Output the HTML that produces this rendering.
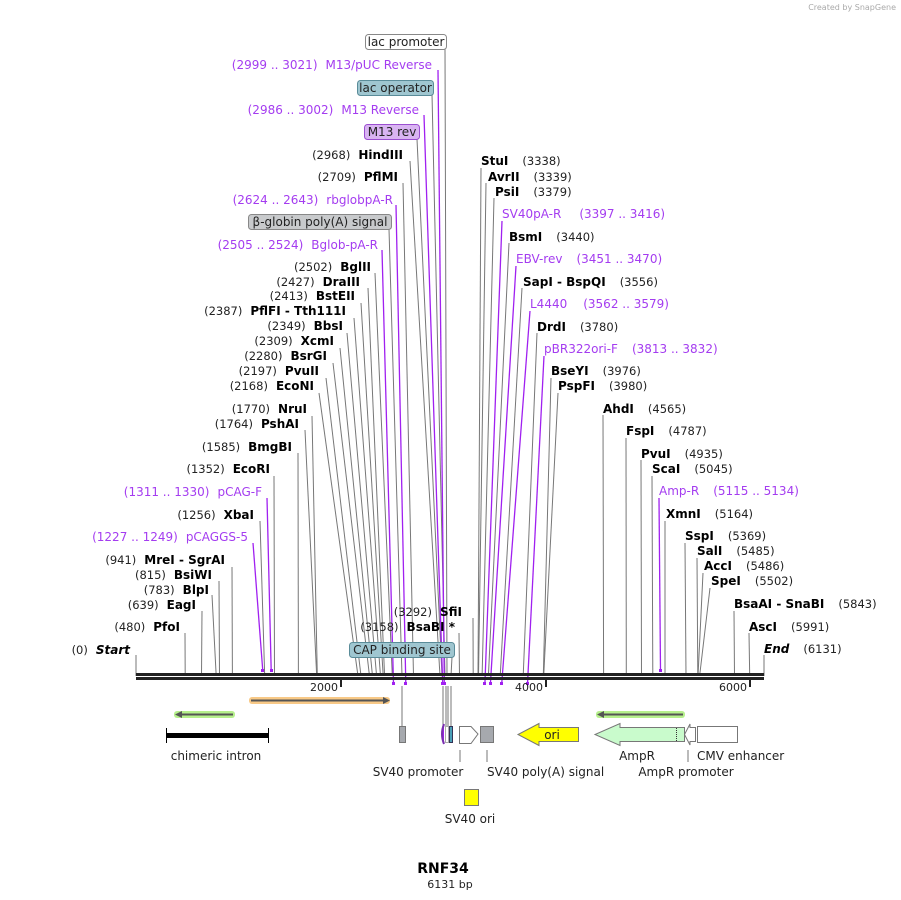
<!DOCTYPE html>
<html><head><meta charset="utf-8"><style>
body{margin:0;background:#fff}
svg{display:block;font-family:"DejaVu Sans","Liberation Sans",sans-serif}
.n{font-weight:bold;font-size:12px;fill:#000}
.p{font-size:11.5px;fill:#222;font-weight:normal;font-style:normal}
.pu{font-size:12px;fill:#a43cf0;font-weight:normal}
.l{stroke:#777;stroke-width:1;fill:none}
.lp{stroke:#a020f0;stroke-width:1.3;fill:none}
.f{font-size:12px;fill:#222}
</style></head><body>
<svg width="901" height="900" viewBox="0 0 901 900">
<text x="896" y="10" text-anchor="end" font-size="8" fill="#aaa">Created by SnapGene</text>

<g class="l">
<line x1="445" y1="49" x2="447" y2="676"/>
<line x1="432" y1="94" x2="445" y2="676"/>
<line x1="417" y1="139" x2="442" y2="676"/>
<line x1="410" y1="161" x2="440" y2="676"/>
<line x1="403" y1="183" x2="413.5" y2="676"/>
<line x1="389" y1="229" x2="402" y2="676"/>
<line x1="375" y1="273" x2="392.3" y2="676"/>
<line x1="368" y1="288" x2="384.6" y2="676"/>
<line x1="361" y1="303" x2="383.2" y2="676"/>
<line x1="354" y1="318" x2="380.5" y2="676"/>
<line x1="347" y1="333" x2="376.6" y2="676"/>
<line x1="340" y1="348" x2="372.5" y2="676"/>
<line x1="333" y1="363" x2="369.5" y2="676"/>
<line x1="326" y1="378" x2="361" y2="676"/>
<line x1="319" y1="393" x2="358" y2="676"/>
<line x1="312" y1="416" x2="317.3" y2="676"/>
<line x1="305" y1="430" x2="316.7" y2="676"/>
<line x1="298" y1="453" x2="298.4" y2="676"/>
<line x1="274" y1="476" x2="274.5" y2="676"/>
<line x1="260" y1="521" x2="264.7" y2="676"/>
<line x1="232" y1="567" x2="232.4" y2="676"/>
<line x1="219" y1="581" x2="219.5" y2="676"/>
<line x1="212" y1="595" x2="216.2" y2="676"/>
<line x1="202" y1="611" x2="201.5" y2="676"/>
<line x1="185" y1="633" x2="185.2" y2="676"/>
<line x1="136" y1="655" x2="136" y2="676"/>
<line x1="473" y1="618" x2="473.2" y2="676"/>
<line x1="459" y1="633" x2="459.5" y2="676"/>
<line x1="452" y1="657" x2="451" y2="676"/>
<line x1="481" y1="168" x2="478" y2="676"/>
<line x1="486" y1="183" x2="478.5" y2="676"/>
<line x1="494" y1="198" x2="482.1" y2="676"/>
<line x1="509" y1="243" x2="488.4" y2="676"/>
<line x1="522" y1="288" x2="500.2" y2="676"/>
<line x1="537" y1="333" x2="523.2" y2="676"/>
<line x1="551" y1="378" x2="543.3" y2="676"/>
<line x1="558" y1="393" x2="543.7" y2="676"/>
<line x1="603" y1="415" x2="603.6" y2="676"/>
<line x1="626" y1="438" x2="626.3" y2="676"/>
<line x1="641" y1="460" x2="641.5" y2="676"/>
<line x1="652" y1="476" x2="652.8" y2="676"/>
<line x1="665" y1="521" x2="665" y2="676"/>
<line x1="685" y1="543" x2="686" y2="676"/>
<line x1="697" y1="558" x2="697.8" y2="676"/>
<line x1="703" y1="573" x2="698" y2="676"/>
<line x1="710" y1="588" x2="699.6" y2="676"/>
<line x1="734" y1="611" x2="734.5" y2="676"/>
<line x1="749" y1="633" x2="749.7" y2="676"/>
<line x1="764" y1="655" x2="764" y2="676"/>
</g>
<g class="lp">
<line x1="438" y1="70" x2="444.3" y2="684"/>
<line x1="424" y1="115" x2="442.7" y2="684"/>
<line x1="396" y1="205" x2="405.8" y2="684"/>
<line x1="382" y1="250" x2="393.5" y2="684"/>
<line x1="267" y1="498" x2="271.2" y2="671"/>
<line x1="253" y1="543" x2="262.8" y2="671"/>
<line x1="502" y1="221" x2="484.9" y2="684"/>
<line x1="516" y1="266" x2="490.4" y2="684"/>
<line x1="530" y1="311" x2="501.7" y2="684"/>
<line x1="544" y1="356" x2="527.5" y2="684"/>
<line x1="659" y1="498" x2="660.5" y2="671"/>
</g>
<g fill="#a020f0">
<rect x="443" y="682" width="3" height="3"/><rect x="441" y="682" width="3" height="3"/>
<rect x="404" y="682" width="3" height="3"/><rect x="392" y="682" width="3" height="3"/>
<rect x="270" y="669" width="3" height="3"/><rect x="261" y="669" width="3" height="3"/>
<rect x="483" y="682" width="3" height="3"/><rect x="489" y="682" width="3" height="3"/>
<rect x="500" y="682" width="3" height="3"/><rect x="526" y="682" width="3" height="3"/>
<rect x="659" y="669" width="3" height="3"/>
</g>

<rect x="136" y="673" width="628" height="3" fill="#222"/>
<rect x="136" y="677" width="628" height="3" fill="#222"/>
<g fill="#222"><rect x="340" y="680" width="2" height="7"/><rect x="545" y="680" width="2" height="7"/><rect x="749" y="680" width="2" height="7"/></g>
<g font-size="11" fill="#222" text-anchor="end"><text x="338" y="691">2000</text><text x="543" y="691">4000</text><text x="747" y="691">6000</text></g>

<rect x="365.5" y="34.5" width="81" height="15" rx="3" fill="#fff" stroke="#888"/>
<text x="406" y="46" text-anchor="middle" class="f">lac promoter</text>
<rect x="357.5" y="80.5" width="76" height="15" rx="3" fill="#9fc6d0" stroke="#5a8c99"/>
<text x="395.5" y="92" text-anchor="middle" class="f">lac operator</text>
<rect x="364.5" y="124.5" width="55" height="15" rx="3" fill="#d9b4f2" stroke="#9b4fd0"/>
<text x="392" y="136" text-anchor="middle" class="f">M13 rev</text>
<rect x="248.5" y="214.5" width="143" height="15" rx="3" fill="#c8cacc" stroke="#888"/>
<text x="320" y="226" text-anchor="middle" class="f">β-globin poly(A) signal</text>
<rect x="349.5" y="642.5" width="105" height="15" rx="3" fill="#9fc6d0" stroke="#5a8c99"/>
<text x="402" y="654" text-anchor="middle" class="f">CAP binding site</text>

<g text-anchor="end">
<text x="432" y="69" class="pu">(2999 .. 3021)<tspan dx="8">M13/pUC Reverse</tspan></text>
<text x="419" y="114" class="pu">(2986 .. 3002)<tspan dx="8">M13 Reverse</tspan></text>
<text x="393" y="204" class="pu">(2624 .. 2643)<tspan dx="8">rbglobpA-R</tspan></text>
<text x="378" y="249" class="pu">(2505 .. 2524)<tspan dx="8">Bglob-pA-R</tspan></text>
<text x="262" y="496" class="pu">(1311 .. 1330)<tspan dx="8">pCAG-F</tspan></text>
<text x="248" y="541" class="pu">(1227 .. 1249)<tspan dx="8">pCAGGS-5</tspan></text>
<text x="403" y="159" class="p">(2968)<tspan dx="8" class="n">HindIII</tspan></text>
<text x="398" y="181" class="p">(2709)<tspan dx="8" class="n">PflMI</tspan></text>
<text x="371" y="271" class="p">(2502)<tspan dx="8" class="n">BglII</tspan></text>
<text x="360" y="286" class="p">(2427)<tspan dx="8" class="n">DraIII</tspan></text>
<text x="355" y="300" class="p">(2413)<tspan dx="8" class="n">BstEII</tspan></text>
<text x="346" y="315" class="p">(2387)<tspan dx="8" class="n">PflFI  - Tth111I</tspan></text>
<text x="343" y="330" class="p">(2349)<tspan dx="8" class="n">BbsI</tspan></text>
<text x="334" y="345" class="p">(2309)<tspan dx="8" class="n">XcmI</tspan></text>
<text x="327" y="360" class="p">(2280)<tspan dx="8" class="n">BsrGI</tspan></text>
<text x="319" y="375" class="p">(2197)<tspan dx="8" class="n">PvuII</tspan></text>
<text x="314" y="390" class="p">(2168)<tspan dx="8" class="n">EcoNI</tspan></text>
<text x="307" y="413" class="p">(1770)<tspan dx="8" class="n">NruI</tspan></text>
<text x="299" y="428" class="p">(1764)<tspan dx="8" class="n">PshAI</tspan></text>
<text x="292" y="451" class="p">(1585)<tspan dx="8" class="n">BmgBI</tspan></text>
<text x="270" y="473" class="p">(1352)<tspan dx="8" class="n">EcoRI</tspan></text>
<text x="254" y="519" class="p">(1256)<tspan dx="8" class="n">XbaI</tspan></text>
<text x="225" y="564" class="p">(941)<tspan dx="8" class="n">MreI  - SgrAI</tspan></text>
<text x="212" y="579" class="p">(815)<tspan dx="8" class="n">BsiWI</tspan></text>
<text x="209" y="594" class="p">(783)<tspan dx="8" class="n">BlpI</tspan></text>
<text x="196" y="609" class="p">(639)<tspan dx="8" class="n">EagI</tspan></text>
<text x="180" y="631" class="p">(480)<tspan dx="8" class="n">PfoI</tspan></text>
<text x="130" y="654" class="p">(0)<tspan dx="8" class="n" font-style="italic">Start</tspan></text>
<text x="462" y="616" class="p">(3292)<tspan dx="8" class="n">SfiI</tspan></text>
<text x="455" y="631" class="p">(3158)<tspan dx="8" class="n">BsaBI *</tspan></text>
</g>

<g>
<text x="481" y="165" class="n">StuI<tspan dx="14" class="p">(3338)</tspan></text>
<text x="488" y="181" class="n">AvrII<tspan dx="14" class="p">(3339)</tspan></text>
<text x="495" y="196" class="n">PsiI<tspan dx="14" class="p">(3379)</tspan></text>
<text x="502" y="218" class="pu">SV40pA-R<tspan dx="18">(3397 .. 3416)</tspan></text>
<text x="509" y="241" class="n">BsmI<tspan dx="14" class="p">(3440)</tspan></text>
<text x="516" y="263" class="pu">EBV-rev<tspan dx="14">(3451 .. 3470)</tspan></text>
<text x="523" y="286" class="n">SapI  - BspQI<tspan dx="14" class="p">(3556)</tspan></text>
<text x="530" y="308" class="pu">L4440<tspan dx="16">(3562 .. 3579)</tspan></text>
<text x="537" y="331" class="n">DrdI<tspan dx="14" class="p">(3780)</tspan></text>
<text x="544" y="353" class="pu">pBR322ori-F<tspan dx="14">(3813 .. 3832)</tspan></text>
<text x="551" y="375" class="n">BseYI<tspan dx="14" class="p">(3976)</tspan></text>
<text x="558" y="390" class="n">PspFI<tspan dx="14" class="p">(3980)</tspan></text>
<text x="603" y="413" class="n">AhdI<tspan dx="14" class="p">(4565)</tspan></text>
<text x="626" y="435" class="n">FspI<tspan dx="14" class="p">(4787)</tspan></text>
<text x="641" y="458" class="n">PvuI<tspan dx="14" class="p">(4935)</tspan></text>
<text x="652" y="473" class="n">ScaI<tspan dx="14" class="p">(5045)</tspan></text>
<text x="659" y="495" class="pu">Amp-R<tspan dx="14">(5115 .. 5134)</tspan></text>
<text x="666" y="518" class="n">XmnI<tspan dx="14" class="p">(5164)</tspan></text>
<text x="685" y="540" class="n">SspI<tspan dx="14" class="p">(5369)</tspan></text>
<text x="697" y="555" class="n">SalI<tspan dx="14" class="p">(5485)</tspan></text>
<text x="704" y="570" class="n">AccI<tspan dx="14" class="p">(5486)</tspan></text>
<text x="711" y="585" class="n">SpeI<tspan dx="14" class="p">(5502)</tspan></text>
<text x="734" y="608" class="n">BsaAI  - SnaBI<tspan dx="14" class="p">(5843)</tspan></text>
<text x="749" y="631" class="n">AscI<tspan dx="14" class="p">(5991)</tspan></text>
<text x="764" y="653" class="n" font-style="italic">End<tspan dx="14" class="p">(6131)</tspan></text>
</g>

<rect x="249" y="697" width="141" height="7" rx="3" fill="#f8c987"/>
<line x1="251" y1="700.5" x2="384" y2="700.5" stroke="#555" stroke-width="2"/>
<polygon points="383,697 390,700.5 383,704" fill="#555"/>
<rect x="174" y="711" width="61" height="7" rx="3" fill="#b6f08c"/>
<line x1="180" y1="714.5" x2="233" y2="714.5" stroke="#555" stroke-width="2"/>
<polygon points="182,711 175,714.5 182,718" fill="#555"/>
<rect x="596" y="711" width="89" height="7" rx="3" fill="#b6f08c"/>
<line x1="602" y1="714.5" x2="683" y2="714.5" stroke="#555" stroke-width="2"/>
<polygon points="604,711 597,714.5 604,718" fill="#555"/>

<rect x="166" y="733" width="103" height="5" fill="#000"/>
<line x1="166.5" y1="728" x2="166.5" y2="743" stroke="#000"/>
<line x1="268.5" y1="728" x2="268.5" y2="743" stroke="#000"/>
<text x="216" y="760" text-anchor="middle" class="f">chimeric intron</text>

<line x1="402" y1="686" x2="402" y2="726" class="l"/>
<rect x="399.5" y="726.5" width="6" height="16" fill="#a6a9ae" stroke="#777"/>
<g class="l"><line x1="443" y1="686" x2="443" y2="726"/><line x1="446" y1="686" x2="446" y2="726"/><line x1="448" y1="686" x2="448" y2="726"/><line x1="451" y1="686" x2="451" y2="726"/></g>
<path d="M444,724 Q440,734 444,744" stroke="#7a2fb0" stroke-width="2" fill="#a020f0"/>
<rect x="445.5" y="726.5" width="3" height="16" fill="#fff" stroke="#555" stroke-dasharray="1,1"/>
<rect x="449.5" y="726.5" width="3" height="16" fill="#4aa0b8" stroke="#335"/>
<polygon points="459.5,726.5 471,726.5 478,734 471,743.5 459.5,743.5" fill="#fff" stroke="#777"/>
<rect x="480.5" y="726.5" width="13" height="16" fill="#a6a9ae" stroke="#777"/>
<line x1="460" y1="750" x2="460" y2="762" class="l"/>
<line x1="487" y1="750" x2="487" y2="762" class="l"/>
<text x="418" y="776" text-anchor="middle" class="f">SV40 promoter</text>
<text x="487" y="776" class="f">SV40 poly(A) signal</text>
<rect x="464.5" y="789.5" width="14" height="16" fill="#ff0" stroke="#777"/>
<text x="470" y="823" text-anchor="middle" class="f">SV40 ori</text>

<polygon points="578.5,727.5 539,727.5 539,723.5 518,734.5 539,745.5 539,741.5 578.5,741.5" fill="#ff0" stroke="#777"/>
<text x="552" y="739" text-anchor="middle" class="f">ori</text>
<polygon points="684.5,727.5 620,727.5 620,723.5 595,734.5 620,745.5 620,741.5 684.5,741.5" fill="#c9fbcc" stroke="#777"/>
<line x1="676.5" y1="728" x2="676.5" y2="741" stroke="#333" stroke-dasharray="1,1"/>
<polygon points="695.5,727.5 690,727.5 690,724 684.5,734.5 690,745 690,741.5 695.5,741.5" fill="#fff" stroke="#777"/>
<rect x="697.5" y="726.5" width="40" height="16" fill="#fff" stroke="#777"/>
<text x="637" y="760" text-anchor="middle" class="f">AmpR</text>
<text x="697" y="760" class="f">CMV enhancer</text>
<line x1="688" y1="750" x2="688" y2="762" class="l"/>
<text x="686" y="776" text-anchor="middle" class="f">AmpR promoter</text>

<text x="443" y="873" text-anchor="middle" font-size="14" font-weight="bold" fill="#000">RNF34</text>
<text x="450" y="888" text-anchor="middle" font-size="11" fill="#222">6131 bp</text>
</svg>
</body></html>
